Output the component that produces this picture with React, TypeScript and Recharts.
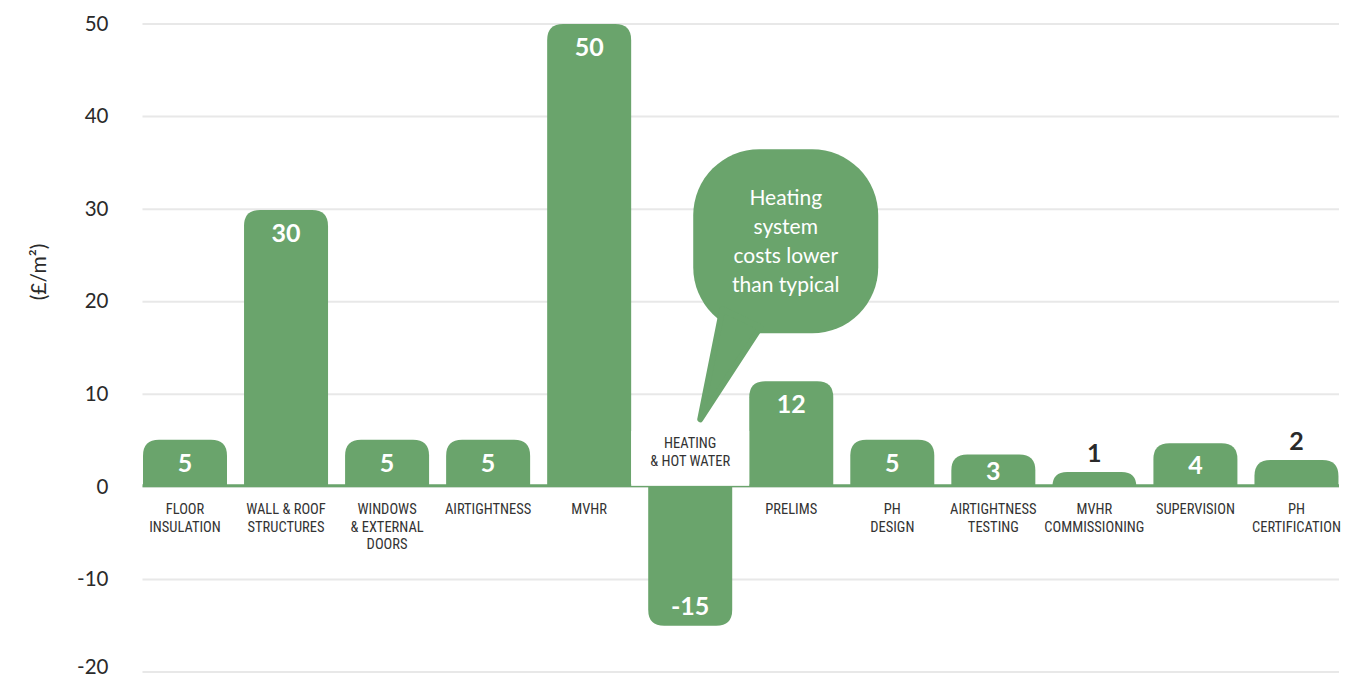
import React from "react";
import {
  BarChart,
  Bar,
  XAxis,
  YAxis,
  CartesianGrid,
  ReferenceLine,
  ReferenceDot,
  LabelList,
} from "recharts";

// ---------------------------------------------------------------------------
// Data
// ---------------------------------------------------------------------------

const categories = [
  "FLOOR\nINSULATION",
  "WALL & ROOF\nSTRUCTURES",
  "WINDOWS\n& EXTERNAL\nDOORS",
  "AIRTIGHTNESS",
  "MVHR",
  "HEATING\n& HOT WATER",
  "PRELIMS",
  "PH\nDESIGN",
  "AIRTIGHTNESS\nTESTING",
  "MVHR\nCOMMISSIONING",
  "SUPERVISION",
  "PH\nCERTIFICATION",
];

// bar heights as drawn
const values = [5.1, 29.9, 5.1, 5.1, 50, -15, 11.4, 5.1, 3.5, 1.6, 4.7, 2.9];

// printed value labels
const valueLabels = ["5", "30", "5", "5", "50", "-15", "12", "5", "3", "1", "4", "2"];

const yTicks = [-20, -10, 0, 10, 20, 30, 40, 50];

const calloutLines = ["Heating", "system", "costs lower", "than typical"];
const calloutAnchor = { category: categories[5], value: 7.3 };

const data = categories.map((name, i) => ({
  name,
  value: values[i],
  label: valueLabels[i],
  idx: i,
}));

// ---------------------------------------------------------------------------
// Style
// ---------------------------------------------------------------------------

const GREEN = "#6aa46c";
const DARK = "#2a2a2a";
const NUM_FONT = "Lato, 'Open Sans', sans-serif";
const CAT_FONT = "'Liberation Sans Narrow', 'Roboto Condensed', 'Arial Narrow', Roboto, sans-serif";

// ---------------------------------------------------------------------------
// Shapes
// ---------------------------------------------------------------------------

function BarShape(props: any) {
  const { x, y, width, height, payload } = props;
  const top = Math.min(y, y + height);
  const bot = Math.max(y, y + height);
  const h = bot - top;
  const r = Math.min(16, h);
  const neg = payload.value < 0;
  let d: string;
  if (!neg) {
    d = `M${x},${bot} L${x},${top + r} Q${x},${top} ${x + r},${top} L${x + width - r},${top} Q${x + width},${top} ${x + width},${top + r} L${x + width},${bot} Z`;
  } else {
    d = `M${x},${top} L${x + width},${top} L${x + width},${bot - r} Q${x + width},${bot} ${x + width - r},${bot} L${x + r},${bot} Q${x},${bot} ${x},${bot - r} Z`;
  }
  return <path d={d} fill={GREEN} />;
}

function boxOf(props: any) {
  const vb = props.viewBox || props;
  const top = Math.min(vb.y, vb.y + vb.height);
  const bot = Math.max(vb.y, vb.y + vb.height);
  return { x: vb.x, w: vb.width, top, bot };
}

function ValueLabel(props: any) {
  const i = props.value as number;
  const { x, w, top, bot } = boxOf(props);
  const cx = x + w / 2;
  const h = bot - top;
  const v = values[i];
  let cy: number;
  let fill = "#fff";
  if (v < 0) {
    cy = bot - 20;
  } else if (h < 30) {
    cy = top - 19;
    fill = DARK;
  } else {
    cy = top + Math.min(23, h / 2);
  }
  return (
    <text
      x={cx}
      y={cy}
      dy="0.36em"
      textAnchor="middle"
      fill={fill}
      fontFamily={NUM_FONT}
      fontWeight={700}
      fontSize={25}
    >
      {valueLabels[i]}
    </text>
  );
}

function CategoryLabel(props: any) {
  const i = props.value as number;
  const { x, w, top, bot } = boxOf(props);
  const cx = x + w / 2;
  const v = values[i];
  const zero = v < 0 ? top : bot;
  const lines = categories[i].split("\n");
  const lh = 17.5;
  const start = v < 0 ? zero - 44 : zero + 22;
  return (
    <g>
      {v < 0 && (
        <rect x={x - 17} y={zero - 56} width={w + 34} height={55} fill="#fff" />
      )}
      {lines.map((ln, k) => (
        <text
          key={k}
          x={cx}
          y={start + k * lh}
          dy="0.36em"
          textAnchor="middle"
          fill="#333"
          fontFamily={CAT_FONT}
          fontSize={14.5}
        >
          {ln}
        </text>
      ))}
    </g>
  );
}

function Callout(props: any) {
  const tx = props.cx + 10;
  const ty = props.cy;
  const bx = tx - 7;
  const by = ty - 270;
  const bw = 185;
  const bh = 184;
  return (
    <g>
      <rect x={bx} y={by} width={bw} height={bh} rx={66} ry={66} fill={GREEN} />
      <path
        d={`M${tx + 22},${ty - 110} L${tx + 60},${ty - 92} L${tx},${ty} Z`}
        fill={GREEN}
        stroke={GREEN}
        strokeWidth={6}
        strokeLinejoin="round"
      />
      {calloutLines.map((ln, k) => (
        <text
          key={k}
          x={bx + bw / 2}
          y={ty - 222 + k * 29}
          dy="0.36em"
          textAnchor="middle"
          fill="#fff"
          fontFamily={NUM_FONT}
          fontSize={21}
        >
          {ln}
        </text>
      ))}
    </g>
  );
}

function GridLine(props: any) {
  const { x1, x2, y1, y2 } = props;
  return <line x1={x1 + 8} x2={x2 - 8} y1={y1} y2={y2} stroke="#e8e8e8" strokeWidth={2} />;
}

function BaseLine(props: any) {
  const { x1, x2, y1, y2 } = props;
  return <line x1={x1 + 8} x2={x2 - 8} y1={y1 - 1} y2={y2 - 1} stroke={GREEN} strokeWidth={3} />;
}

function YTick(props: any) {
  const { x, y, payload } = props;
  // keep the lowest label inside the page edge
  const lift = payload.value === yTicks[0] ? -5 : 0;
  return (
    <text
      x={x}
      y={y + lift}
      dy="0.33em"
      textAnchor="end"
      fill={DARK}
      fontFamily={NUM_FONT}
      fontSize={20.5}
    >
      {payload.value}
    </text>
  );
}

// ---------------------------------------------------------------------------
// Component
// ---------------------------------------------------------------------------

export default function App() {
  return (
    <div style={{ position: "absolute", left: 0, top: 0, background: "#fff" }}>
      <BarChart
        width={1364}
        height={681}
        data={data}
        margin={{ top: 24, right: 17, left: 0, bottom: 9 }}
        barCategoryGap={8.5}
      >
        <CartesianGrid vertical={false} horizontal={GridLine} />
        <XAxis dataKey="name" hide />
        <YAxis
          domain={[-20, 50]}
          ticks={yTicks}
          interval={0}
          width={134.5}
          axisLine={false}
          tickLine={false}
          tickSize={0}
          tickMargin={26}
          tick={YTick}
          label={{
            content: (p: any) => {
              const vb = p.viewBox || { x: 0, y: 24 };
              const lx = 38;
              const ly = vb.y + 248;
              return (
                <text
                  x={lx}
                  y={ly}
                  transform={`rotate(-90 ${lx} ${ly})`}
                  textAnchor="middle"
                  dy="0.36em"
                  fill={DARK}
                  fontFamily={NUM_FONT}
                  fontSize={21}
                >
                  (£/m²)
                </text>
              );
            },
          }}
        />
        <ReferenceLine y={0} shape={BaseLine} />
        <Bar dataKey="value" shape={BarShape} isAnimationActive={false}>
          <LabelList dataKey="idx" content={CategoryLabel} />
          <LabelList dataKey="idx" content={ValueLabel} />
        </Bar>
        <ReferenceDot
          x={calloutAnchor.category}
          y={calloutAnchor.value}
          ifOverflow="visible"
          shape={Callout}
        />
      </BarChart>
    </div>
  );
}
